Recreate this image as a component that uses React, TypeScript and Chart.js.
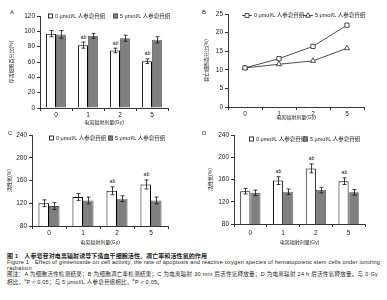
import React, { useEffect, useLayoutEffect, useRef } from 'react';
import { Chart, registerables } from 'chart.js';

Chart.register(...registerables);

const FONT = '"Liberation Sans", Arial, "Noto Sans CJK SC", sans-serif';
const TEXT = '#222';
Chart.defaults.font.family = FONT;
Chart.defaults.color = TEXT;

// ---------- data ----------
const doses = ['0', '1', '2', '5'];
const seriesLabels = ['0 μmol/L 人参皂苷组', '5 μmol/L 人参皂苷组'];
const xTitle = '电离辐射剂量(Gy)';

// A: cell viability
const aYTitle = '存活细胞百分比(%)';
const aYRange = [0, 120, 20];
const aControl = [97, 82, 75, 61];
const aControlErr = [4, 4, 3, 3];
const aGinseng = [96, 94, 91, 89];
const aGinsengErr = [5, 3, 4, 4];
const aMarks = ['', 'ab', 'ab', 'ab'];

// B: apoptosis rate
const bYTitle = '凋亡细胞百分比(%)';
const bYRange = [0, 25, 5];
const bControl = [10.5, 13, 16.3, 22];
const bGinseng = [10.5, 11.5, 12.4, 15.8];

// C: ROS 30 min after irradiation
const cYTitle = '活性氧(%)';
const cYRange = [80, 240, 40];
const cControl = [120, 131, 142, 153];
const cControlErr = [6, 6, 7, 8];
const cGinseng = [115, 125, 128, 125];
const cGinsengErr = [6, 6, 5, 6];
const cMarks = ['', '', 'ab', 'ab'];

// D: ROS 24 h after irradiation
const dYTitle = '活性氧(%)';
const dYRange = [80, 240, 40];
const dControl = [139, 158, 180, 157];
const dControlErr = [5, 7, 8, 6];
const dGinseng = [136, 138, 141, 137];
const dGinsengErr = [5, 5, 5, 5];
const dMarks = ['', 'ab', 'ab', 'ab'];

// ---------- plugins ----------
const errorBarPlugin = {
  id: 'errorBars',
  afterDatasetsDraw(chart: any) {
    const { ctx } = chart;
    const ys = chart.scales.y;
    chart.data.datasets.forEach((ds: any, di: number) => {
      if (!ds.errors) return;
      const meta = chart.getDatasetMeta(di);
      meta.data.forEach((el: any, i: number) => {
        const v = ds.data[i];
        const e = ds.errors[i];
        const x = Math.round(el.x) + 0.5;
        const yt = ys.getPixelForValue(v + e);
        const yb = ys.getPixelForValue(v - e);
        ctx.save();
        ctx.strokeStyle = '#111';
        ctx.lineWidth = 0.8;
        ctx.beginPath();
        ctx.moveTo(x, yt);
        ctx.lineTo(x, yb);
        ctx.moveTo(x - 2, yt);
        ctx.lineTo(x + 2, yt);
        ctx.moveTo(x - 2, yb);
        ctx.lineTo(x + 2, yb);
        ctx.stroke();
        if (ds.marks && ds.marks[i]) {
          ctx.fillStyle = TEXT;
          ctx.font = `5.5px ${FONT}`;
          ctx.textAlign = 'center';
          ctx.textBaseline = 'middle';
          ctx.fillText(ds.marks[i], x, yt - 5);
        }
        ctx.restore();
      });
    });
  },
};

const miniLegendPlugin = {
  id: 'miniLegend',
  afterDraw(chart: any, _args: any, opts: any) {
    if (!opts || !opts.xs) return;
    const { ctx } = chart;
    ctx.save();
    ctx.font = `${opts.size}px ${FONT}`;
    ctx.textBaseline = 'middle';
    ctx.textAlign = 'left';
    chart.data.datasets.forEach((ds: any, i: number) => {
      const x = opts.xs[i];
      const y = opts.y;
      let tx = x + 7;
      if (opts.line) {
        ctx.strokeStyle = ds.borderColor;
        ctx.lineWidth = 0.8;
        ctx.beginPath();
        ctx.moveTo(x, y + 0.5);
        ctx.lineTo(x + 10, y + 0.5);
        ctx.stroke();
        ctx.fillStyle = '#fff';
        ctx.beginPath();
        if (ds.pointStyle === 'triangle') {
          ctx.moveTo(x + 5, y - 2.2);
          ctx.lineTo(x + 7.5, y + 2.2);
          ctx.lineTo(x + 2.5, y + 2.2);
          ctx.closePath();
        } else {
          ctx.rect(x + 3, y - 1.5, 4, 4);
        }
        ctx.fill();
        ctx.stroke();
        tx = x + 12;
      } else {
        ctx.fillStyle = ds.backgroundColor;
        ctx.fillRect(x, y - 2.5, 5, 5);
        ctx.strokeStyle = ds.borderColor;
        ctx.lineWidth = 0.8;
        ctx.strokeRect(x + 0.5, y - 2, 4, 4);
      }
      ctx.fillStyle = TEXT;
      ctx.fillText(ds.label, tx, y);
    });
    ctx.restore();
  },
};

// ---------- helpers ----------
function yAxis(range: number[], title: string, width: number, titlePad: number) {
  return {
    min: range[0],
    max: range[1],
    beginAtZero: false,
    ticks: { stepSize: range[2], font: { size: 6.5 }, color: TEXT, padding: 2 },
    grid: { display: true, drawOnChartArea: false, drawTicks: true, tickLength: 3, color: '#000', lineWidth: 0.8 },
    border: { display: true, color: '#000', width: 0.8 },
    title: { display: true, text: title, font: { size: 5 }, color: TEXT, padding: { top: titlePad, bottom: 0 } },
    afterFit: (s: any) => {
      s.width = width;
    },
  };
}

function xAxis(height: number, tickPad: number, titlePad: number) {
  return {
    type: 'category',
    offset: true,
    ticks: { font: { size: 6.5 }, color: TEXT, padding: tickPad, maxRotation: 0 },
    grid: { display: true, offset: true, drawOnChartArea: false, drawTicks: true, tickLength: 3, color: '#000', lineWidth: 0.8 },
    border: { display: true, color: '#000', width: 0.8 },
    title: { display: true, text: xTitle, font: { size: 5 }, color: TEXT, padding: { top: 0, bottom: titlePad } },
    afterFit: (s: any) => {
      s.height = height;
    },
  };
}

function barDatasets(ctrl: number[], ctrlErr: number[], marks: string[], gin: number[], ginErr: number[]) {
  return [
    {
      label: seriesLabels[0],
      data: ctrl,
      errors: ctrlErr,
      marks,
      backgroundColor: '#ffffff',
      borderColor: '#000000',
      borderWidth: 1,
      categoryPercentage: 0.62,
      barPercentage: 1,
    },
    {
      label: seriesLabels[1],
      data: gin,
      errors: ginErr,
      backgroundColor: '#808080',
      borderColor: '#505050',
      borderWidth: 0.8,
      categoryPercentage: 0.62,
      barPercentage: 1,
    },
  ];
}

function barConfig(p: any) {
  return {
    type: 'bar',
    data: { labels: doses, datasets: barDatasets(p.ctrl, p.ctrlErr, p.marks, p.gin, p.ginErr) },
    options: {
      animation: false,
      responsive: false,
      events: [],
      layout: { padding: { left: 0, top: p.top, right: p.right, bottom: 0 } },
      plugins: {
        legend: { display: false },
        tooltip: { enabled: false },
        miniLegend: { xs: p.legendXs, y: p.legendY, size: 5.5 },
      },
      scales: {
        x: xAxis(p.xh, p.tickPad, p.titlePad),
        y: yAxis(p.range, p.yTitle, p.yw, p.yTitlePad),
      },
    },
    plugins: [errorBarPlugin, miniLegendPlugin],
  };
}

function lineConfig() {
  return {
    type: 'line',
    data: {
      labels: doses,
      datasets: [
        {
          label: seriesLabels[0],
          data: bControl,
          borderColor: '#222',
          borderWidth: 0.8,
          pointStyle: 'rect',
          pointRadius: 3,
          pointBackgroundColor: '#fff',
          pointBorderColor: '#222',
          pointBorderWidth: 0.8,
          tension: 0,
        },
        {
          label: seriesLabels[1],
          data: bGinseng,
          borderColor: '#222',
          borderWidth: 0.8,
          pointStyle: 'triangle',
          pointRadius: 3,
          pointBackgroundColor: '#fff',
          pointBorderColor: '#222',
          pointBorderWidth: 0.8,
          tension: 0,
        },
      ],
    },
    options: {
      animation: false,
      responsive: false,
      events: [],
      layout: { padding: { left: 0, top: 14, right: 23, bottom: 0 } },
      plugins: {
        legend: { display: false },
        tooltip: { enabled: false },
        miniLegend: { xs: [47, 108], y: 15, size: 5.5, line: true },
      },
      scales: {
        x: xAxis(21, 0, 7),
        y: yAxis(bYRange, bYTitle, 33, 9),
      },
    },
    plugins: [miniLegendPlugin],
  };
}

function ChartBox(props: { left: number; top: number; width: number; height: number; make: () => any }) {
  const ref = useRef<HTMLCanvasElement>(null);
  useEffect(() => {
    const chart = new Chart(ref.current as HTMLCanvasElement, props.make());
    return () => chart.destroy();
  }, []);
  return (
    <canvas
      ref={ref}
      width={props.width}
      height={props.height}
      style={{ position: 'absolute', left: props.left, top: props.top, width: props.width, height: props.height, display: 'block' }}
    />
  );
}

const letterStyle = (left: number, top: number): React.CSSProperties => ({
  position: 'absolute',
  left,
  top,
  fontSize: 6,
  lineHeight: '6px',
  fontFamily: FONT,
  color: TEXT,
});

// caption line stretched (via letter-spacing) to the reference line width
function FitLine(props: { top: number; width: number; size: number; bold?: boolean; children: React.ReactNode }) {
  const ref = useRef<HTMLDivElement>(null);
  useLayoutEffect(() => {
    const el = ref.current;
    if (!el) return;
    el.style.letterSpacing = '0px';
    const w = el.getBoundingClientRect().width;
    const n = Math.max(1, (el.textContent || '').length);
    el.style.letterSpacing = `${(props.width - w) / n}px`;
  }, []);
  return (
    <div
      ref={ref}
      style={{
        position: 'absolute',
        left: 7,
        top: props.top,
        fontSize: props.size,
        lineHeight: '6px',
        fontFamily: FONT,
        fontWeight: props.bold ? 700 : 400,
        color: TEXT,
        whiteSpace: 'nowrap',
      }}
    >
      {props.children}
    </div>
  );
}

export default function App() {
  return (
    <div style={{ position: 'absolute', left: 0, top: 0, width: 387, height: 300, background: '#fff', overflow: 'hidden' }}>
      <ChartBox
        left={0}
        top={0}
        width={195}
        height={128}
        make={() =>
          barConfig({
            ctrl: aControl, ctrlErr: aControlErr, marks: aMarks, gin: aGinseng, ginErr: aGinsengErr,
            range: aYRange, yTitle: aYTitle, yw: 40, yTitlePad: 9,
            top: 16, right: 27, xh: 20, tickPad: 0, titlePad: 2,
            legendXs: [48, 113], legendY: 16,
          })
        }
      />
      <ChartBox left={195} top={0} width={192} height={128} make={lineConfig} />
      <ChartBox
        left={0}
        top={128}
        width={195}
        height={120}
        make={() =>
          barConfig({
            ctrl: cControl, ctrlErr: cControlErr, marks: cMarks, gin: cGinseng, ginErr: cGinsengErr,
            range: cYRange, yTitle: cYTitle, yw: 32, yTitlePad: 7,
            top: 7, right: 27, xh: 22, tickPad: 0, titlePad: 2,
            legendXs: [49, 108], legendY: 10,
          })
        }
      />
      <ChartBox
        left={195}
        top={128}
        width={192}
        height={120}
        make={() =>
          barConfig({
            ctrl: dControl, ctrlErr: dControlErr, marks: dMarks, gin: dGinseng, ginErr: dGinsengErr,
            range: dYRange, yTitle: dYTitle, yw: 39, yTitlePad: 13,
            top: 7, right: 22, xh: 24, tickPad: 2, titlePad: 2,
            legendXs: [54, 108], legendY: 11,
          })
        }
      />
      <span style={letterStyle(10, 9)}>A</span>
      <span style={letterStyle(202, 9)}>B</span>
      <span style={letterStyle(8, 130)}>C</span>
      <span style={letterStyle(202, 130)}>D</span>

      <FitLine top={252.5} width={200} size={6} bold>
        图 1　人参皂苷对电离辐射诱导下造血干细胞活性、凋亡率和活性氧的作用
      </FitLine>
      <FitLine top={258.5} width={373} size={5.6}>
        Figure 1　Effect of ginsenoside on cell activity, the rate of apoptosis and reactive oxygen species of hematopoietic stem cells under ionizing
      </FitLine>
      <FitLine top={264.5} width={25} size={5.6}>
        radiation
      </FitLine>
      <FitLine top={270.5} width={371} size={5.5}>
        图注：A 为细胞活性检测结果；B 为细胞凋亡率检测结果；C 为电离辐射 30 min 后活性氧释放量；D 为电离辐射 24 h 后活性氧释放量。与 0 Gy
      </FitLine>
      <FitLine top={276.5} width={156} size={5.5}>
        相比，<sup style={{ fontSize: 3.8 }}>a</sup>P &lt; 0.05；与 5 μmol/L 人参皂苷组相比，<sup style={{ fontSize: 3.8 }}>b</sup>P &lt; 0.05。
      </FitLine>
    </div>
  );
}
